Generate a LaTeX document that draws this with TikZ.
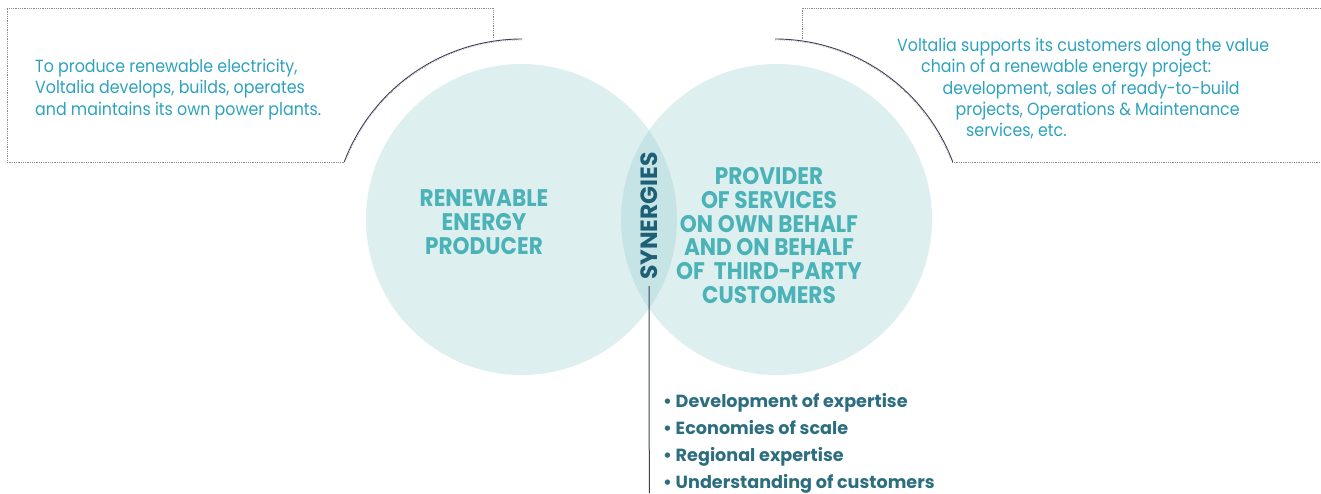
\documentclass[tikz,border=0pt]{standalone}
\usepackage{fontspec}
\setmainfont{Poppins}
\newfontfamily\descfont[FakeStretch=0.9]{Poppins}
\newfontfamily\headfont[FakeStretch=0.9]{Poppins}
\definecolor{circfill}{HTML}{DEEFEF}
\definecolor{lensfill}{HTML}{C6E3E6}
\definecolor{headcol}{HTML}{4BB3B8}
\definecolor{desccol}{HTML}{2DA2BD}
\definecolor{syncol}{HTML}{1D5F74}
\definecolor{bulcol}{HTML}{2C6E80}
\definecolor{arccol}{HTML}{3C4058}
\definecolor{dotcol}{HTML}{8A8A8A}
\begin{document}
\begin{tikzpicture}[x=1pt,y=-1pt,
  bigcirc/.style={circle,fill=circfill,minimum size=311pt,inner sep=0pt},
  headtext/.style={text=headcol,align=center,font=\headfont\bfseries\fontsize{24}{23.9}\selectfont},
  desctext/.style={text=desccol,font=\descfont\fontsize{17.6}{21.3}\selectfont,inner sep=0pt},
  bullettext/.style={text=bulcol,font=\bfseries\fontsize{17.6}{26.7}\selectfont,align=left,inner sep=0pt},
  dotline/.style={dotcol,line width=0.6pt,dash pattern=on 0.6pt off 1.2pt},
  arcline/.style={arccol,line width=0.9pt},
  synline/.style={arccol,line width=1pt}]
\useasboundingbox (0,0) rectangle (1321,493);
% circles
\node[bigcirc] (L) at (521.5,219.5) {};
\node[bigcirc] (R) at (776.5,219.5) {};
\begin{scope}
  \clip (521.5,219.5) circle (155.5);
  \fill[lensfill] (776.5,219.5) circle (155.5);
\end{scope}
% dotted boxes
\draw[dotline] (344,162) -- (7,162) -- (7,8) -- (493,8) -- (493,39);
\draw[dotline] (802,39) -- (802,8) -- (1321,8);
\draw[dotline] (952,162) -- (1321,162);
\draw[dotline] (522,40) arc[start angle=270,end angle=202,radius=189];
\draw[dotline] (775,40) arc[start angle=270,end angle=338,radius=189];
% arcs
\draw[arcline] (522,39) arc[start angle=270,end angle=200.7,radius=190];
\draw[arcline] (775,39) arc[start angle=270,end angle=339.3,radius=190];
% headings
\node[headtext] (lh) at (484,222.5) {RENEWABLE\\ENERGY\\PRODUCER};
\node[headtext] (rh) at (769,235.5) {PROVIDER\\OF SERVICES\\ON OWN BEHALF\\AND ON BEHALF\\OF~ THIRD-PARTY\\CUSTOMERS};
% synergies
\node[rotate=90,text=syncol,font=\bfseries\fontsize{23.5}{23.5}\selectfont,inner sep=0pt] (syn) at (649,216) {SYNERGIES};
\coordinate (synend) at (649.3,493);
\draw[synline,shorten <=6pt] (syn.west) -- (synend);
% descriptions
\node[desctext,anchor=base west,align=left] (ld) at (35,115) {To produce renewable electricity,\\Voltalia develops, builds, operates\\and maintains its own power plants.};
\node[desctext,anchor=base west,align=left] (rd) at (897,136.7) {Voltalia supports its customers along the value\\\hspace*{24pt}chain of a renewable energy project:\\\hspace*{45.5pt}development, sales of ready-to-build\\\hspace*{58.5pt}projects, Operations \& Maintenance\\\hspace*{69pt}services, etc.};
% bullets
\node[bullettext,anchor=base west] (bl) at (663,488) {• Development of expertise\\• Economies of scale\\• Regional expertise\\• Understanding of customers};
\end{tikzpicture}
\end{document}
